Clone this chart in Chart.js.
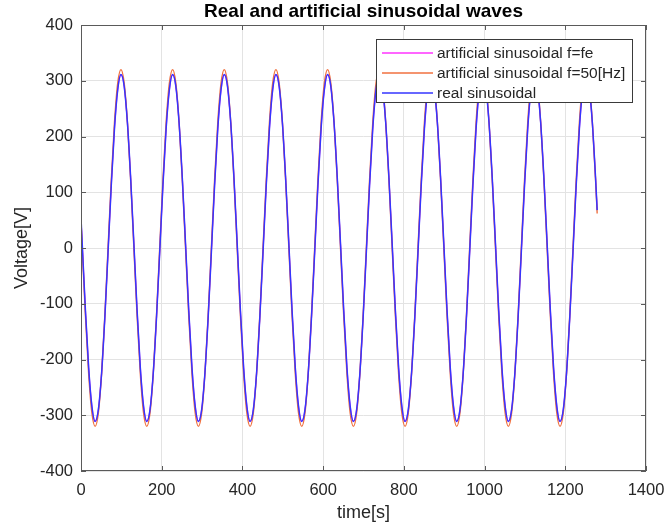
<!DOCTYPE html>
<html>
<head>
<meta charset="utf-8">
<script src="https://cdn.jsdelivr.net/npm/chart.js@4/dist/chart.umd.min.js"></script>
<style>
html,body{margin:0;padding:0;background:#fff;}
#wrap{position:relative;width:665px;height:529px;}
</style>
</head>
<body>
<div id="wrap"><canvas id="c" width="665" height="529"></canvas></div>
<script>
const chartTitle = "Real and artificial sinusoidal waves";
const xTitle = "time[s]";
const yTitle = "Voltage[V]";
const seriesNames = ["artificial sinusoidal f=fe", "artificial sinusoidal f=50[Hz]", "real sinusoidal"];
const xTicks = [0, 200, 400, 600, 800, 1000, 1200, 1400];
const yTicks = [-400, -300, -200, -100, 0, 100, 200, 300, 400];

const times = [0,
  3, 11, 19, 27, 35, 43, 51, 59, 67, 75, 83, 91, 99, 107, 115, 123,
  131, 139, 147, 155, 163, 171, 179, 187, 195, 203, 211, 219, 227, 235, 243, 251,
  259, 267, 275, 283, 291, 299, 307, 315, 323, 331, 339, 347, 355, 363, 371, 379,
  387, 395, 403, 411, 419, 427, 435, 443, 451, 459, 467, 475, 483, 491, 499, 507,
  515, 523, 531, 539, 547, 555, 563, 571, 579, 587, 595, 603, 611, 619, 627, 635,
  643, 651, 659, 667, 675, 683, 691, 699, 707, 715, 723, 731, 739, 747, 755, 763,
  771, 779, 787, 795, 803, 811, 819, 827, 835, 843, 851, 859, 867, 875, 883, 891,
  899, 907, 915, 923, 931, 939, 947, 955, 963, 971, 979, 987, 995, 1003, 1011, 1019,
  1027, 1035, 1043, 1051, 1059, 1067, 1075, 1083, 1091, 1099, 1107, 1115, 1123, 1131, 1139, 1147,
  1155, 1163, 1171, 1179, 1187, 1195, 1203, 1211, 1219, 1227, 1235, 1243, 1251, 1259, 1267, 1275,
  1279];

const waveFe = [53,
  8, -112, -215, -284, -311, -290, -225, -126, -8, 112, 215, 284, 311, 290, 225, 126,
  8, -112, -215, -284, -311, -290, -225, -126, -8, 112, 215, 284, 311, 290, 225, 126,
  8, -112, -215, -284, -311, -290, -225, -126, -8, 112, 215, 284, 311, 290, 225, 126,
  8, -112, -215, -284, -311, -290, -225, -126, -8, 112, 215, 284, 311, 290, 225, 126,
  8, -112, -215, -284, -311, -290, -225, -126, -8, 112, 215, 284, 311, 290, 225, 126,
  8, -112, -215, -284, -311, -290, -225, -126, -8, 112, 215, 284, 311, 290, 225, 126,
  8, -112, -215, -284, -311, -290, -225, -126, -8, 112, 215, 284, 311, 290, 225, 126,
  8, -112, -215, -284, -311, -290, -225, -126, -8, 112, 215, 284, 311, 290, 225, 126,
  8, -112, -215, -284, -311, -290, -225, -126, -8, 112, 215, 284, 311, 290, 225, 126,
  8, -112, -215, -284, -311, -290, -225, -126, -8, 112, 215, 284, 311, 290, 225, 126,
  68];

const wave50 = [47,
  0, -122, -226, -296, -320, -296, -226, -122, 0, 122, 226, 296, 320, 296, 226, 122,
  0, -122, -226, -296, -320, -296, -226, -122, 0, 122, 226, 296, 320, 296, 226, 122,
  0, -122, -226, -296, -320, -296, -226, -122, 0, 122, 226, 296, 320, 296, 226, 122,
  0, -122, -226, -296, -320, -296, -226, -122, 0, 122, 226, 296, 320, 296, 226, 122,
  0, -122, -226, -296, -320, -296, -226, -122, 0, 122, 226, 296, 320, 296, 226, 122,
  0, -122, -226, -296, -320, -296, -226, -122, 0, 122, 226, 296, 320, 296, 226, 122,
  0, -122, -226, -296, -320, -296, -226, -122, 0, 122, 226, 296, 320, 296, 226, 122,
  0, -122, -226, -296, -320, -296, -226, -122, 0, 122, 226, 296, 320, 296, 226, 122,
  0, -122, -226, -296, -320, -296, -226, -122, 0, 122, 226, 296, 320, 296, 226, 122,
  0, -122, -226, -296, -320, -296, -226, -122, 0, 122, 226, 296, 320, 296, 226, 122,
  62];

const waveReal = [54,
  8, -112, -215, -284, -311, -290, -225, -126, -8, 112, 215, 284, 311, 290, 225, 126,
  8, -112, -215, -284, -311, -290, -225, -126, -8, 112, 215, 284, 311, 290, 225, 126,
  8, -112, -215, -284, -311, -290, -225, -126, -8, 112, 215, 284, 311, 290, 225, 126,
  8, -112, -215, -284, -311, -290, -225, -126, -8, 112, 215, 284, 311, 290, 225, 126,
  8, -112, -215, -284, -311, -290, -225, -126, -8, 112, 215, 284, 311, 290, 225, 126,
  8, -112, -215, -284, -311, -290, -225, -126, -8, 112, 215, 284, 311, 290, 225, 126,
  8, -112, -215, -284, -311, -290, -225, -126, -8, 112, 215, 284, 311, 290, 225, 126,
  8, -112, -215, -284, -311, -290, -225, -126, -8, 112, 215, 284, 311, 290, 225, 126,
  8, -112, -215, -284, -311, -290, -225, -126, -8, 112, 215, 284, 311, 290, 225, 126,
  8, -112, -215, -284, -311, -290, -225, -126, -8, 112, 215, 284, 311, 290, 225, 126,
  68];

const seriesColors = ['#ff33ff', '#f0703f', '#3535ff'];
const FONT = "'Liberation Sans', Arial, Helvetica, sans-serif";
const TXT = '#262626';

function pts(vals) { return times.map((t, i) => ({x: t, y: vals[i]})); }

const matlabAxes = {
  id: 'matlabAxes',
  afterDatasetsDraw(chart) {
    const {ctx, chartArea: a, scales: {x, y}} = chart;
    ctx.save();
    ctx.setLineDash([]);
    ctx.globalAlpha = 1;
    // box
    ctx.strokeStyle = '#5a5a5a';
    ctx.lineWidth = 1;
    ctx.strokeRect(Math.round(a.left) + 0.5, Math.round(a.top) + 0.5,
      Math.round(a.right - a.left) - 1, Math.round(a.bottom - a.top) - 1);
    // inner ticks
    ctx.beginPath();
    const tl = 5;
    xTicks.forEach(v => {
      const px = Math.round(x.getPixelForValue(v)) + 0.5;
      ctx.moveTo(px, a.bottom); ctx.lineTo(px, a.bottom - tl);
      ctx.moveTo(px, a.top); ctx.lineTo(px, a.top + tl);
    });
    yTicks.forEach(v => {
      const py = Math.round(y.getPixelForValue(v)) + 0.5;
      ctx.moveTo(a.left, py); ctx.lineTo(a.left + tl, py);
      ctx.moveTo(a.right, py); ctx.lineTo(a.right - tl, py);
    });
    ctx.stroke();

    // legend
    const L = 376, T = 39, R = 633, B = 103;
    ctx.fillStyle = '#ffffff';
    ctx.fillRect(L, T, R - L, B - T);
    ctx.strokeStyle = '#3a3a3a';
    ctx.lineWidth = 1;
    ctx.strokeRect(L + 0.5, T + 0.5, R - L - 1, B - T - 1);
    const rows = [53, 73, 93];
    seriesNames.forEach((n, i) => {
      ctx.beginPath();
      ctx.strokeStyle = seriesColors[i];
      ctx.lineWidth = 1.5;
      ctx.moveTo(382, rows[i]);
      ctx.lineTo(433, rows[i]);
      ctx.stroke();
    });
    ctx.font = '15.5px ' + FONT;
    ctx.textBaseline = 'middle';
    ctx.textAlign = 'left';
    ctx.fillStyle = TXT;
    seriesNames.forEach((n, i) => {
      ctx.fillText(n, 437, rows[i] + 1);
    });

    // title
    ctx.font = 'bold 19px ' + FONT;
    ctx.textAlign = 'center';
    ctx.fillStyle = '#000';
    ctx.fillText(chartTitle, (a.left + a.right) / 2, 12);
    ctx.restore();
  }
};

new Chart(document.getElementById('c'), {
  type: 'line',
  data: {
    datasets: [
      {label: seriesNames[2], data: pts(waveReal), borderColor: seriesColors[2], backgroundColor: seriesColors[2], borderWidth: 1.5, order: 1},
      {label: seriesNames[1], data: pts(wave50), borderColor: seriesColors[1], backgroundColor: seriesColors[1], borderWidth: 1.4, order: 2},
      {label: seriesNames[0], data: pts(waveFe), borderColor: seriesColors[0], backgroundColor: seriesColors[0], borderWidth: 1.2, order: 3}
    ]
  },
  options: {
    responsive: false,
    animation: false,
    events: [],
    elements: {
      point: {radius: 0},
      line: {cubicInterpolationMode: 'monotone', fill: false}
    },
    layout: {padding: {top: 25, right: 19, bottom: 0, left: 0}},
    plugins: {legend: {display: false}, tooltip: {enabled: false}, title: {display: false}},
    scales: {
      x: {
        type: 'linear', min: 0, max: 1400,
        afterBuildTicks(s) { s.ticks = xTicks.map(v => ({value: v})); },
        afterFit(s) { s.height = 58; s.paddingLeft = 0; s.paddingRight = 0; },
        grid: {color: '#e3e3e3', drawTicks: false},
        border: {display: false},
        ticks: {color: TXT, padding: 10, font: {family: FONT, size: 16.5}, maxRotation: 0, callback: v => String(v)},
        title: {display: true, text: xTitle, color: TXT, font: {family: FONT, size: 18}, padding: {top: 0, bottom: 5}}
      },
      y: {
        type: 'linear', min: -400, max: 400,
        afterBuildTicks(s) { s.ticks = yTicks.map(v => ({value: v})); },
        afterFit(s) { s.width = 81; s.paddingTop = 0; s.paddingBottom = 0; },
        grid: {color: '#e3e3e3', drawTicks: false},
        border: {display: false},
        ticks: {color: TXT, padding: 8, font: {family: FONT, size: 16.5}, callback: v => String(v)},
        title: {display: true, text: yTitle, color: TXT, font: {family: FONT, size: 18}, padding: {top: 11, bottom: 0}}
      }
    }
  },
  plugins: [matlabAxes]
});
</script>
</body>
</html>
